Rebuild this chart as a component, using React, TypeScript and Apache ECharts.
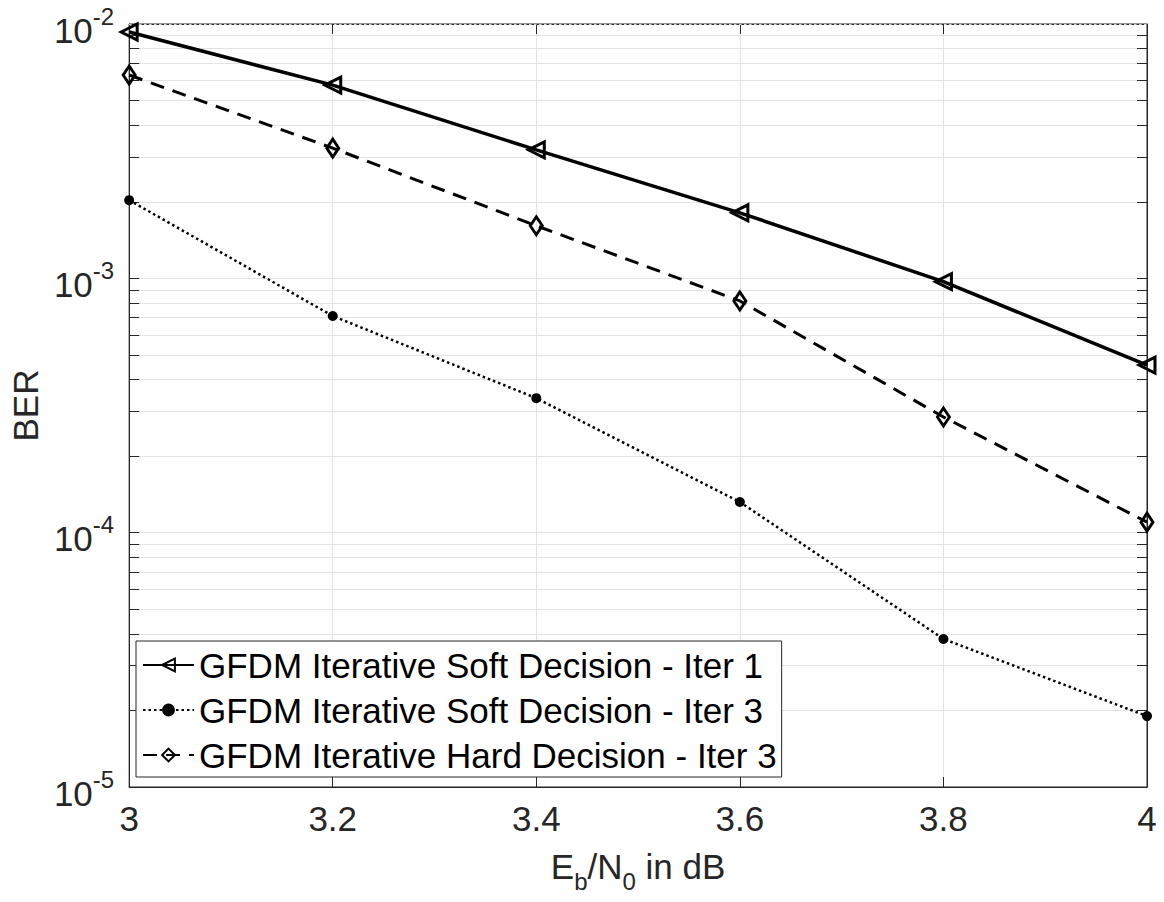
import React, { useEffect, useRef } from 'react';
import * as echarts from 'echarts';

const ebn0 = [3, 3.2, 3.4, 3.6, 3.8, 4];
const softIter1 = [0.0093, 0.00575, 0.0032, 0.00181, 0.00097, 0.000456];
const softIter3 = [0.00203, 0.000711, 0.000338, 0.000132, 3.82e-5, 1.9e-5];
const hardIter3 = [0.0063, 0.00325, 0.00161, 0.000815, 0.000285, 0.00011];
const seriesNames = [
  'GFDM Iterative Soft Decision - Iter 1',
  'GFDM Iterative Soft Decision - Iter 3',
  'GFDM Iterative Hard Decision - Iter 3',
];
const majorY = [1e-5, 1e-4, 1e-3, 1e-2];
const minorMantissas = [2, 3, 4, 5, 6, 7, 8, 9];
const minorDecades = [1e-5, 1e-4, 1e-3];
const minorY: number[] = [];
minorDecades.forEach((d) => minorMantissas.forEach((m) => minorY.push(+(m * d).toPrecision(3))));
const allYTicks = [...majorY, ...minorY];

const FONT = '"Liberation Sans", Arial, Helvetica, sans-serif';
const AX = '#262626';
const FS = 35;

export default function App() {
  const ref = useRef<HTMLDivElement>(null);
  useEffect(() => {
    document.body.style.margin = '0';
    const chart = echarts.init(ref.current!, null, { renderer: 'svg' });
    const yLabelFmt = (v: number) => `{b|10}{s|${Math.round(Math.log10(v))}}`;
    const common = {
      type: 'line',
      xAxisIndex: 0,
      yAxisIndex: 0,
      z: 5,
    };
    chart.setOption({
      animation: false,
      backgroundColor: '#fff',
      textStyle: { fontFamily: FONT },
      grid: {
        left: 128, right: 17, top: 24, bottom: 115, containLabel: false,
        show: true, borderColor: AX, borderWidth: 1, backgroundColor: 'rgba(0,0,0,0)',
      },
      legend: {
        orient: 'vertical',
        left: 136,
        top: 641,
        data: seriesNames,
        itemWidth: 51,
        itemHeight: 16,
        itemGap: 5,
        padding: [4, 5, 2, 6],
        borderColor: AX,
        borderWidth: 1,
        borderRadius: 0,
        backgroundColor: '#fff',
        textStyle: { fontSize: FS, color: '#000', fontFamily: FONT, lineHeight: 40 },
      },
      xAxis: [
        {
          type: 'value',
          min: 3,
          max: 4,
          interval: 0.2,
          position: 'bottom',
          name: '{n|E}{sub|b}{n|/N}{sub|0}{n| in dB}',
          nameLocation: 'middle',
          nameGap: 52,
          nameTextStyle: {
            rich: {
              n: { fontSize: FS, color: AX, fontFamily: FONT },
              sub: { fontSize: 24, color: AX, fontFamily: FONT, padding: [30, 0, 0, 0] },
            },
          },
          axisLine: { show: true, lineStyle: { color: AX, width: 1 } },
          axisTick: { show: true, inside: true, length: 10, lineStyle: { color: AX } },
          axisLabel: { fontSize: FS, color: AX, margin: 14, fontFamily: FONT },
          splitLine: { show: true, lineStyle: { color: '#e3e3e3', width: 1 } },
        },
        {
          type: 'value',
          min: 3,
          max: 4,
          interval: 0.2,
          position: 'top',
          axisLine: { show: true, onZero: false, lineStyle: { color: AX, width: 1, type: 'solid' } },
          axisTick: { show: true, inside: true, length: 10, lineStyle: { color: AX } },
          axisLabel: { show: false },
          splitLine: { show: false },
        },
      ],
      yAxis: [
        {
          type: 'log',
          logBase: 10,
          min: 1e-5,
          max: 1e-2,
          position: 'left',
          name: 'BER',
          nameLocation: 'middle',
          nameGap: 82,
          nameRotate: 90,
          nameTextStyle: { fontSize: FS, color: AX, fontFamily: FONT },
          axisLine: { show: true, lineStyle: { color: AX, width: 1 } },
          axisTick: { show: true, inside: true, length: 10, lineStyle: { color: AX }, customValues: allYTicks },
          axisLabel: {
            formatter: yLabelFmt,
            margin: 15,
            rich: {
              b: { fontSize: FS, color: AX, fontFamily: FONT, padding: [12, 0, 0, 0] },
              s: { fontSize: 24, color: AX, fontFamily: FONT, padding: [0, 0, 16, 0] },
            },
          },
          splitLine: { show: true, lineStyle: { color: '#e3e3e3', width: 1 } },
        },
        {
          type: 'log',
          logBase: 10,
          min: 1e-5,
          max: 1e-2,
          position: 'right',
          axisLine: { show: true, onZero: false, lineStyle: { color: AX, width: 1 } },
          axisTick: { show: true, inside: true, length: 10, lineStyle: { color: AX }, customValues: allYTicks },
          axisLabel: { show: false },
          splitLine: { show: false },
        },
      ],
      series: [
        {
          type: 'line',
          name: 'minor-grid',
          xAxisIndex: 0,
          yAxisIndex: 0,
          data: [],
          z: 1,
          silent: true,
          markLine: {
            silent: true,
            symbol: ['none', 'none'],
            label: { show: false },
            lineStyle: { type: [2, 3], color: '#d2d2d2', width: 1 },
            data: minorY.map((v) => ({ yAxis: v })),
          },
        },
        {
          ...common,
          name: seriesNames[0],
          data: ebn0.map((x, i) => [x, softIter1[i]]),
          symbol: 'triangle',
          symbolRotate: 90,
          symbolSize: 16,
          lineStyle: { color: '#000', width: 3.5, type: 'solid' },
          itemStyle: { color: 'rgba(255,255,255,0)', borderColor: '#000', borderWidth: 3 },
        },
        {
          ...common,
          name: seriesNames[1],
          data: ebn0.map((x, i) => [x, softIter3[i]]),
          symbol: 'circle',
          symbolSize: 10,
          lineStyle: { color: '#000', width: 2.5, type: [2.5, 3] },
          itemStyle: { color: '#000', borderColor: '#000', borderWidth: 0 },
        },
        {
          ...common,
          name: seriesNames[2],
          data: ebn0.map((x, i) => [x, hardIter3[i]]),
          symbol: 'diamond',
          symbolSize: [12, 18],
          lineStyle: { color: '#000', width: 3, type: [14, 9] },
          itemStyle: { color: 'rgba(255,255,255,0)', borderColor: '#000', borderWidth: 3 },
        },
      ],
    });
    return () => chart.dispose();
  }, []);
  return <div ref={ref} style={{ width: 1164, height: 902 }} />;
}
